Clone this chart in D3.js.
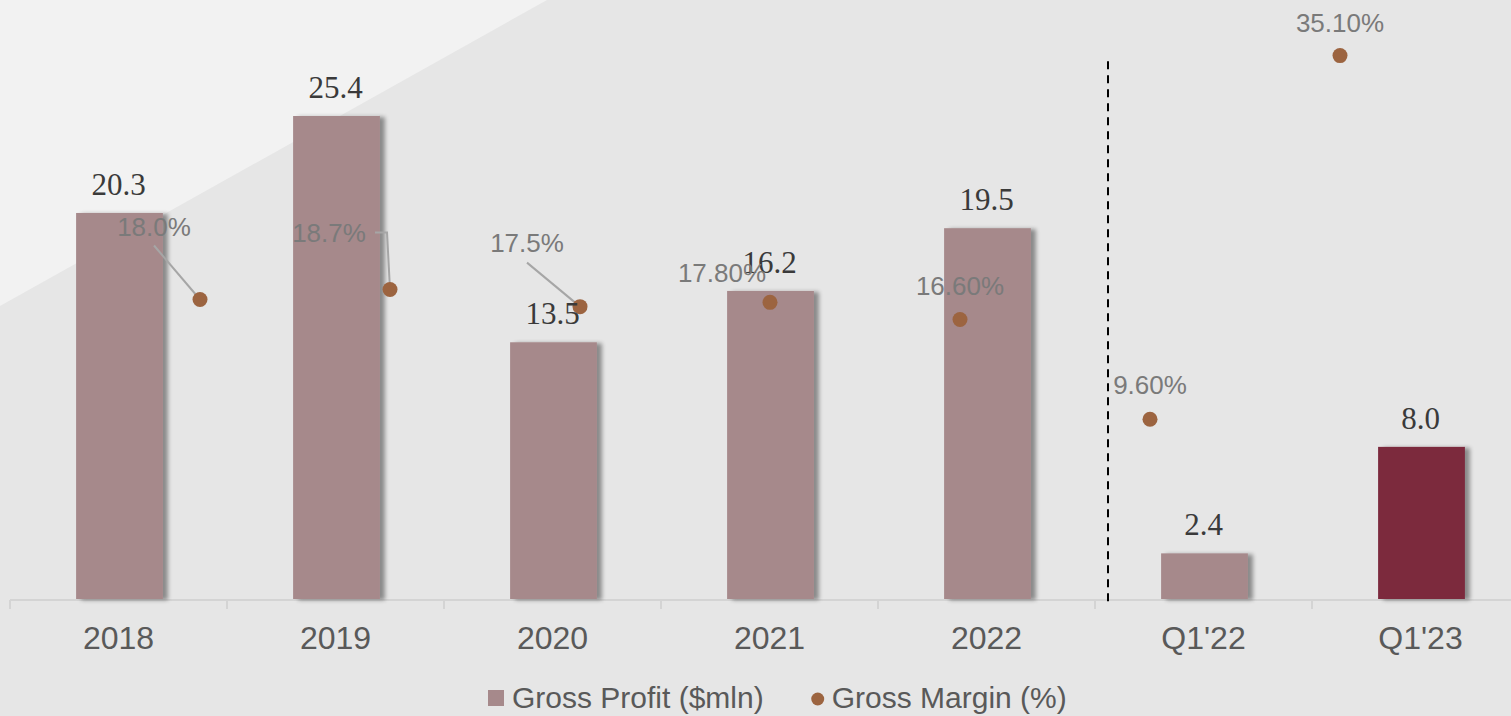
<!DOCTYPE html>
<html>
<head>
<meta charset="utf-8">
<script src="https://cdn.jsdelivr.net/npm/d3@7"></script>
<style>
  body { margin: 0; background: #e6e6e6; }
  svg { display: block; }
</style>
</head>
<body>
<script>
// Data
const categories = ["2018", "2019", "2020", "2021", "2022", "Q1'22", "Q1'23"];
const grossProfit = [20.3, 25.4, 13.5, 16.2, 19.5, 2.4, 8.0];
const grossMargin = [18.0, 18.7, 17.5, 17.8, 16.6, 9.6, 35.1];
const marginLabels = ["18.0%", "18.7%", "17.5%", "17.80%", "16.60%", "9.60%", "35.10%"];
const highlighted = "Q1'23";
const legendItems = ["Gross Profit ($mln)", "Gross Margin (%)"];

// Dimensions
const width = 1511;
const height = 716;
const baseY = 599;

// Hand placed margin labels (offset from the dot) and leader lines
const labelOffsets = [
  { dx: -46, dy: -64, leader: [[-46, -54], [0, 0]] },
  { dx: -61, dy: -48, leader: [[-15, -57], [-3, -57], [0, 0]] },
  { dx: -53, dy: -55, leader: [[-53, -44], [0, 0]] },
  { dx: -48, dy: -20 },
  { dx: 0, dy: -24 },
  { dx: 0, dy: -25 },
  { dx: 0, dy: -24 }
];

const rows = categories.map((c, i) => ({
  cat: c, profit: grossProfit[i], margin: grossMargin[i], label: marginLabels[i], off: labelOffsets[i]
}));

const svg = d3.select('body')
  .append('svg')
  .attr('width', width)
  .attr('height', height);

// Bar shadow filter
const defs = svg.append('defs');
const f = defs.append('filter').attr('id', 'shadow')
  .attr('x', '-20%').attr('y', '-20%').attr('width', '140%').attr('height', '140%');
f.append('feGaussianBlur').attr('in', 'SourceAlpha').attr('stdDeviation', 2).attr('result', 'blur');
f.append('feOffset').attr('in', 'blur').attr('dx', 5).attr('dy', 1).attr('result', 'off');
f.append('feComponentTransfer').attr('in', 'off').attr('result', 'soft')
  .append('feFuncA').attr('type', 'linear').attr('slope', 0.4);
const merge = f.append('feMerge');
merge.append('feMergeNode').attr('in', 'soft');
merge.append('feMergeNode').attr('in', 'SourceGraphic');

// Background
svg.append('rect').attr('width', width).attr('height', height).attr('fill', '#e6e6e6');
svg.append('path').attr('d', 'M0,0 L547,0 L0,306 Z').attr('fill', '#f2f2f2');

// Scales
const x = d3.scaleBand()
  .domain(categories)
  .range([10, 10 + 217 * categories.length]);

const y = d3.scaleLinear()
  .domain([0, 31.5])
  .range([baseY, 0]);

// The margin series sits on its own axes
const xm = d3.scalePoint()
  .domain(categories)
  .range([200, 1340]);

const ym = d3.scaleLinear()
  .domain([-3, 39])
  .range([baseY, 0]);

const barW = x.bandwidth() * 0.4;

// Axis
const axis = svg.append('g')
  .attr('transform', `translate(0, ${baseY + 1})`)
  .call(d3.axisBottom(x).tickSize(0).tickPadding(26));
axis.select('.domain').remove();
axis.selectAll('text')
  .attr('font-family', '"Liberation Sans", Arial, sans-serif')
  .attr('font-size', 32)
  .attr('fill', '#595959');

svg.append('line')
  .attr('x1', 10).attr('x2', width)
  .attr('y1', baseY + 1).attr('y2', baseY + 1)
  .attr('stroke', '#d4d4d4').attr('stroke-width', 2);

svg.selectAll('.tick-mark')
  .data(categories)
  .enter()
  .append('line')
  .attr('class', 'tick-mark')
  .attr('x1', d => x(d)).attr('x2', d => x(d))
  .attr('y1', baseY + 1).attr('y2', baseY + 10)
  .attr('stroke', '#d4d4d4').attr('stroke-width', 2);

// Bars
svg.selectAll('.bar')
  .data(rows)
  .enter()
  .append('rect')
  .attr('class', 'bar')
  .attr('x', d => x(d.cat) + x.bandwidth() / 2 - barW / 2 + 1)
  .attr('y', d => y(d.profit))
  .attr('width', barW)
  .attr('height', d => baseY - y(d.profit))
  .attr('fill', d => d.cat === highlighted ? '#7b2a3e' : '#a6898b')
  .attr('filter', 'url(#shadow)');

// Dashed divider between years and quarters
svg.append('line')
  .attr('x1', x("Q1'22") + 13).attr('x2', x("Q1'22") + 13)
  .attr('y1', ym(34.7)).attr('y2', baseY + 6)
  .attr('stroke', '#000').attr('stroke-width', 2)
  .attr('stroke-dasharray', '8,6');

// Leader lines
svg.selectAll('.leader')
  .data(rows.filter(d => d.off.leader))
  .enter()
  .append('polyline')
  .attr('class', 'leader')
  .attr('points', d => d.off.leader.map(p => [xm(d.cat) + p[0], ym(d.margin) + p[1]].join(',')).join(' '))
  .attr('fill', 'none')
  .attr('stroke', '#a6a6a6')
  .attr('stroke-width', 2);

// Margin dots
svg.selectAll('.dot')
  .data(rows)
  .enter()
  .append('circle')
  .attr('class', 'dot')
  .attr('cx', d => xm(d.cat))
  .attr('cy', d => ym(d.margin))
  .attr('r', 7.5)
  .attr('fill', '#9c6440');

// Bar value labels
svg.selectAll('.value')
  .data(rows)
  .enter()
  .append('text')
  .attr('class', 'value')
  .attr('x', d => x(d.cat) + x.bandwidth() / 2)
  .attr('y', d => y(d.profit) - 18)
  .attr('text-anchor', 'middle')
  .attr('font-family', '"Liberation Serif", "Times New Roman", serif')
  .attr('font-size', 31)
  .attr('fill', '#3a3a3a')
  .text(d => d3.format('.1f')(d.profit));

// Margin labels
svg.selectAll('.mlabel')
  .data(rows)
  .enter()
  .append('text')
  .attr('class', 'mlabel')
  .attr('x', d => xm(d.cat) + d.off.dx)
  .attr('y', d => ym(d.margin) + d.off.dy)
  .attr('text-anchor', 'middle')
  .attr('font-family', '"Liberation Sans", Arial, sans-serif')
  .attr('font-size', 26)
  .attr('fill', '#7a7a7a')
  .text(d => d.label);

// Legend
const legend = svg.append('g').attr('transform', 'translate(488, 708)');
legend.append('rect')
  .attr('x', 0).attr('y', -18)
  .attr('width', 16).attr('height', 16)
  .attr('fill', '#a6898b');
const t1 = legend.append('text')
  .attr('x', 24)
  .attr('font-family', '"Liberation Sans", Arial, sans-serif')
  .attr('font-size', 30)
  .attr('fill', '#595959')
  .text(legendItems[0]);
const next = 24 + t1.node().getComputedTextLength() + 47;
legend.append('circle')
  .attr('cx', next + 7).attr('cy', -9)
  .attr('r', 6.5)
  .attr('fill', '#9c6440');
legend.append('text')
  .attr('x', next + 21)
  .attr('font-family', '"Liberation Sans", Arial, sans-serif')
  .attr('font-size', 30)
  .attr('fill', '#595959')
  .text(legendItems[1]);
</script>
</body>
</html>
